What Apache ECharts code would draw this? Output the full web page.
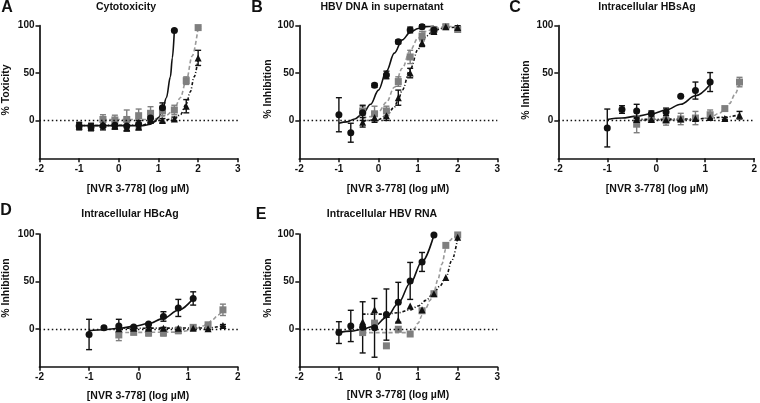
<!DOCTYPE html>
<html>
<head>
<meta charset="utf-8">
<script src="https://cdn.jsdelivr.net/npm/echarts@6/dist/echarts.min.js"></script>
<style>
html,body{margin:0;padding:0;background:#fff;}
#chart{width:760px;height:403px;}
</style>
</head>
<body>
<div id="chart"></div>
<script>
// ---------- DATA ----------
const X = [-1, -0.7, -0.4, -0.1, 0.2, 0.5, 0.8, 1.1, 1.4, 1.7, 2.0];
const panelLetters = ['A', 'B', 'C', 'D', 'E'];
const panelTitles = ['Cytotoxicity', 'HBV DNA in supernatant', 'Intracellular HBsAg', 'Intracellular HBcAg', 'Intracellular HBV RNA'];
const yNames = ['% Toxicity', '% Inhibition', '% Inhibition', '% Inhibition', '% Inhibition'];
const xName = '[NVR 3-778] (log µM)';
const yTickValues = [0, 50, 100];
const xMaxes = [3, 3, 2, 2, 3];

// Panel A - Cytotoxicity
const aCirc    = [-6, -7, -6, -5, -6, -4, 2.5, 13.5, 95, null, null];
const aCircErr = [4, 4, 4, 4, 5, 4, 4, 5, 1, null, null];
const aSq      = [null, null, 1, 0.5, 1, 5, 7.5, 10, 11, 42, 98];
const aSqErr   = [null, null, 5, 5, 10, 7, 7, 5, 5, 4, 1];
const aTri     = [-6, -7, -4, -6, -8, -7, 0, 0, 1.5, 15, 66];
const aTriErr  = [3, 3, 3, 3, 3, 3, 2, 2, 2, 7, 8];
const aCircFit = [[-1, -5.5], [0.6, -5.5], [0.8, -4], [0.9, -1.5], [1.0, 3], [1.1, 11], [1.2, 24], [1.3, 46], [1.35, 66], [1.4, 95]];
const aSqFit   = [[-0.4, 1], [0.8, 1], [0.9, 1.5], [1.0, 2.5], [1.2, 5.5], [1.4, 12], [1.55, 24], [1.7, 42], [1.85, 68], [2.0, 98]];
const aTriFit  = [[-1, -5.5], [0.6, -5], [0.8, -2], [1.0, 0], [1.4, 1.5], [1.55, 6], [1.7, 17], [1.8, 30], [1.9, 46], [2.0, 66]];

// Panel B - HBV DNA in supernatant
const bCirc    = [6, -13, 8, 37, 48, 83, 95.5, 99, 95.5, null, null];
const bCircErr = [18, 10, 8, 2, 4, 2, 3, 2, 3, null, null];
const bSq      = [null, null, 10, 7, 10, 41, 67, 89, 96, 99, 96];
const bSqErr   = [null, null, 5, 8, 5, 5, 7, 5, 3, 2, 2];
const bTri     = [null, null, -2, 3, 5, 24, 50, 82, 94, 99, 98];
const bTriErr  = [null, null, 5, 5, 5, 8, 5, 4, 3, 2, 2];
const bCircFit = [[-1, -3], [-0.8, -1.5], [-0.6, 1.5], [-0.4, 7], [-0.2, 17], [0, 32], [0.2, 52], [0.4, 71], [0.6, 85], [0.8, 93], [1.0, 97], [1.2, 99], [1.4, 99.5]];
const bSqFit   = [[-0.4, 2], [-0.2, 4], [0, 9], [0.2, 19], [0.4, 35], [0.6, 55], [0.8, 74], [1.0, 87], [1.2, 94], [1.4, 97], [1.7, 99], [2.0, 99.5]];
const bTriFit  = [[-0.4, -1], [0, 1], [0.2, 5], [0.4, 14], [0.5, 22], [0.6, 32], [0.8, 54], [1.0, 75], [1.1, 83], [1.2, 89], [1.4, 95], [1.7, 98], [2.0, 98.5]];

// Panel C - Intracellular HBsAg
const cCirc    = [-8, 11.5, 10, 7, 9, 25.5, 31.5, 40.5, null, null, null];
const cCircErr = [20, 4, 7, 3, 4, 1, 9, 10, null, null, null];
const cSq      = [null, null, -4, 1, 0, 1.5, 2.5, 6, 12.5, 40.5, null];
const cSqErr   = [null, null, 9, 3, 5, 6, 7, 5, 1, 5, null];
const cTri     = [null, null, 1, 1, 1, 1.5, 2, 3, 2, 5.5, null];
const cTriErr  = [null, null, 1, 1, 1, 1, 1, 1, 1, 4, null];
const cCircFit = [[-1, 1], [-0.7, 2.5], [-0.4, 4.5], [-0.1, 7], [0.2, 11], [0.5, 17], [0.8, 26], [1.1, 38]];
const cSqFit   = [[-0.4, 0], [0.5, 0.5], [0.8, 1], [1.1, 3], [1.3, 8], [1.4, 12], [1.5, 18], [1.6, 27], [1.7, 40]];
const cTriFit  = [[-0.4, 1], [0.8, 1.5], [1.1, 2.5], [1.4, 3.5], [1.7, 6]];

// Panel D - Intracellular HBcAg
const dCirc    = [-6, 1, 3, 1.8, 5, 13, 22, 32, null, null, null];
const dCircErr = [16, 1.5, 7, 1, 1, 5, 9, 7, null, null, null];
const dSq      = [null, null, -6.5, -3.8, -4.5, -4.5, -2, 1.5, 4.2, 20, null];
const dSqErr   = [null, null, 6, 2, 3, 3, 3, 2, 2, 6, null];
const dTri     = [null, null, 0, 0.5, 0.5, 0.5, 0.5, 0.5, 0, 3.5, null];
const dTriErr  = [null, null, 1, 1, 1, 1, 1, 1, 1, 1, null];
const dCircFit = [[-1, -2], [-0.7, -1], [-0.4, 0.5], [-0.1, 2.5], [0.2, 5.5], [0.5, 11], [0.8, 19.5], [1.1, 32]];
const dSqFit   = [[-0.4, -4], [0.8, -3.5], [1.1, -1], [1.3, 3], [1.4, 6], [1.5, 10], [1.6, 14.5], [1.7, 20]];
const dTriFit  = [[-0.4, 0.5], [1.4, 0.8], [1.7, 3.5]];

// Panel E - Intracellular HBV RNA
const eCirc    = [-4, 3, 1.5, 1, 15, 28, 50.5, 70.5, 99, null, null];
const eCircErr = [11.5, 16.5, 27, 31, 27, 21, 19.5, 10, null, null, null];
const eSq      = [null, null, -4, 6, -18, -0.5, -5.5, 19, 37, 88, 99];
const eSqErr   = [null, null, null, null, null, null, null, null, null, null, null];
const eTri     = [null, null, 7.5, 20, 15, 9, 24, 20, 37, 54, 96.5];
const eTriErr  = [null, null, null, null, null, null, null, null, null, null, null];
const eCircFit = [[-1, -4], [-0.7, -2.5], [-0.4, -0.5], [-0.1, 3], [0.2, 12], [0.5, 27], [0.8, 48], [1.1, 71], [1.4, 99]];
const eSqFit   = [[-0.4, -4], [0.8, -4], [0.9, 0], [1.0, 6], [1.1, 14], [1.2, 22], [1.3, 30], [1.4, 39], [1.5, 52], [1.6, 68], [1.7, 84], [1.8, 93], [1.9, 97], [2.0, 98.5]];
const eTriFit  = [[-0.4, 15.5], [0.2, 15.5], [0.5, 17], [0.8, 20], [1.0, 24], [1.2, 30], [1.4, 38], [1.55, 45], [1.7, 54], [1.85, 72], [2.0, 96]];

const panels = [
  {circ: aCirc, circErr: aCircErr, sq: aSq, sqErr: aSqErr, tri: aTri, triErr: aTriErr, circFit: aCircFit, sqFit: aSqFit, triFit: aTriFit},
  {circ: bCirc, circErr: bCircErr, sq: bSq, sqErr: bSqErr, tri: bTri, triErr: bTriErr, circFit: bCircFit, sqFit: bSqFit, triFit: bTriFit},
  {circ: cCirc, circErr: cCircErr, sq: cSq, sqErr: cSqErr, tri: cTri, triErr: cTriErr, circFit: cCircFit, sqFit: cSqFit, triFit: cTriFit},
  {circ: dCirc, circErr: dCircErr, sq: dSq, sqErr: dSqErr, tri: dTri, triErr: dTriErr, circFit: dCircFit, sqFit: dSqFit, triFit: dTriFit},
  {circ: eCirc, circErr: eCircErr, sq: eSq, sqErr: eSqErr, tri: eTri, triErr: eTriErr, circFit: eCircFit, sqFit: eSqFit, triFit: eTriFit}
];

// ---------- LAYOUT / STYLE ----------
const FONT = 'Liberation Sans, Arial, sans-serif';
const BLACK = '#111111';
const GRAY = '#7f7f7f';
const GRAY_LINE = '#9a9a9a';
const grids = [
  {left: 39.5, top: 25.7, width: 198.3, height: 132.6},
  {left: 299.3, top: 25.7, width: 198, height: 132.6},
  {left: 558.3, top: 25.7, width: 198.4, height: 132.6},
  {left: 39.5, top: 234, width: 198.3, height: 132.7},
  {left: 299.3, top: 234, width: 198, height: 132.7}
];
const letterPos = [[7, 8], [257, 8], [515, 8], [6, 211], [261, 215]];
const titlePos = [[126, 7.5], [382, 7.5], [647, 7.5], [130, 214], [382, 214]];
const xNamePos = [[138, 189.5], [398, 189], [657, 189], [138, 396], [398, 395.5]];
const yNamePos = [[6.5, 90], [268, 89], [526, 90], [6.5, 288], [268, 288]];

function pts(vals) {
  const out = [];
  X.forEach((x, i) => { if (vals[i] != null) out.push([x, vals[i]]); });
  return out;
}
function errs(vals, e) {
  const out = [];
  X.forEach((x, i) => { if (vals[i] != null && e[i] != null) out.push([x, vals[i] - e[i], vals[i] + e[i]]); });
  return out;
}
function errSeries(idx, data, color) {
  return {
    type: 'custom', xAxisIndex: idx, yAxisIndex: idx, data: data, z: 3,
    encode: {x: 0, y: [1, 2]}, silent: true,
    renderItem: function (params, api) {
      const x = api.value(0), lo = api.value(1), hi = api.value(2);
      const a = api.coord([x, lo]), b = api.coord([x, hi]);
      const w = 3;
      const st = {stroke: color, lineWidth: 1.4, fill: null};
      return {type: 'group', children: [
        {type: 'line', shape: {x1: a[0], y1: a[1], x2: b[0], y2: b[1]}, style: st},
        {type: 'line', shape: {x1: a[0] - w, y1: a[1], x2: a[0] + w, y2: a[1]}, style: st},
        {type: 'line', shape: {x1: b[0] - w, y1: b[1], x2: b[0] + w, y2: b[1]}, style: st}
      ]};
    }
  };
}

const xAxes = [], yAxes = [], series = [], graphics = [];
panels.forEach((p, i) => {
  xAxes.push({
    gridIndex: i, type: 'value', min: -2, max: xMaxes[i], interval: 1,
    axisLine: {onZero: false, lineStyle: {color: BLACK, width: 1.7}},
    axisTick: {inside: false, length: 4, lineStyle: {color: BLACK, width: 1.5}},
    axisLabel: {color: BLACK, fontFamily: FONT, fontWeight: 'bold', fontSize: 10, margin: 6, showMinLabel: true, showMaxLabel: true},
    splitLine: {show: false}
  });
  yAxes.push({
    gridIndex: i, type: 'value', min: -40, max: 100,
    axisLine: {show: true, onZero: false, lineStyle: {color: BLACK, width: 1.7}},
    axisTick: {show: true, inside: false, length: 4, customValues: yTickValues, lineStyle: {color: BLACK, width: 1.5}},
    axisLabel: {color: BLACK, fontFamily: FONT, fontWeight: 'bold', fontSize: 10, margin: 5, customValues: yTickValues},
    splitLine: {show: false}
  });
  series.push({
    type: 'line', xAxisIndex: i, yAxisIndex: i, data: [], silent: true,
    markLine: {silent: true, symbol: 'none', label: {show: false}, animation: false,
      lineStyle: {color: BLACK, width: 1.3, type: [1.5, 2.6]}, data: [{yAxis: 0}]}
  });
  series.push({type: 'line', xAxisIndex: i, yAxisIndex: i, data: p.sqFit, smooth: 0.35, smoothMonotone: 'x', showSymbol: false, silent: true, z: 2,
    lineStyle: {color: GRAY_LINE, width: 1.6, type: [4, 2.5]}});
  series.push({type: 'line', xAxisIndex: i, yAxisIndex: i, data: p.triFit, smooth: 0.35, smoothMonotone: 'x', showSymbol: false, silent: true, z: 2,
    lineStyle: {color: BLACK, width: 1.6, type: [3, 2, 1, 2]}});
  series.push({type: 'line', xAxisIndex: i, yAxisIndex: i, data: p.circFit, smooth: 0.35, smoothMonotone: 'x', showSymbol: false, silent: true, z: 2,
    lineStyle: {color: BLACK, width: 1.6}});
  series.push(errSeries(i, errs(p.sq, p.sqErr), GRAY));
  series.push(errSeries(i, errs(p.tri, p.triErr), BLACK));
  series.push(errSeries(i, errs(p.circ, p.circErr), BLACK));
  series.push({type: 'scatter', xAxisIndex: i, yAxisIndex: i, data: pts(p.sq), symbol: 'rect', symbolSize: 7, z: 4,
    itemStyle: {color: GRAY, opacity: 1}});
  series.push({type: 'scatter', xAxisIndex: i, yAxisIndex: i, data: pts(p.tri), symbol: 'triangle', symbolSize: 7, z: 4,
    itemStyle: {color: BLACK, opacity: 1}});
  series.push({type: 'scatter', xAxisIndex: i, yAxisIndex: i, data: pts(p.circ), symbol: 'circle', symbolSize: 7, z: 5,
    itemStyle: {color: BLACK, opacity: 1}});

  graphics.push({type: 'text', x: letterPos[i][0], y: letterPos[i][1], style: {text: panelLetters[i], fill: BLACK,
    font: 'bold 16px ' + FONT, textAlign: 'center', textVerticalAlign: 'middle'}});
  graphics.push({type: 'text', x: titlePos[i][0], y: titlePos[i][1], style: {text: panelTitles[i], fill: BLACK,
    font: 'bold 10.5px ' + FONT, textAlign: 'center', textVerticalAlign: 'middle'}});
  graphics.push({type: 'text', x: xNamePos[i][0], y: xNamePos[i][1], style: {text: xName, fill: BLACK,
    font: 'bold 10.5px ' + FONT, textAlign: 'center', textVerticalAlign: 'middle'}});
  graphics.push({type: 'text', x: yNamePos[i][0], y: yNamePos[i][1], rotation: Math.PI / 2, style: {text: yNames[i], fill: BLACK,
    font: 'bold 10.5px ' + FONT, textAlign: 'center', textVerticalAlign: 'middle'}});
});

const chart = echarts.init(document.getElementById('chart'), null, {renderer: 'canvas'});
chart.setOption({
  animation: false,
  backgroundColor: '#ffffff',
  grid: grids.map(g => Object.assign({containLabel: false, show: false}, g)),
  xAxis: xAxes,
  yAxis: yAxes,
  series: series,
  graphic: graphics
});
</script>
</body>
</html>
